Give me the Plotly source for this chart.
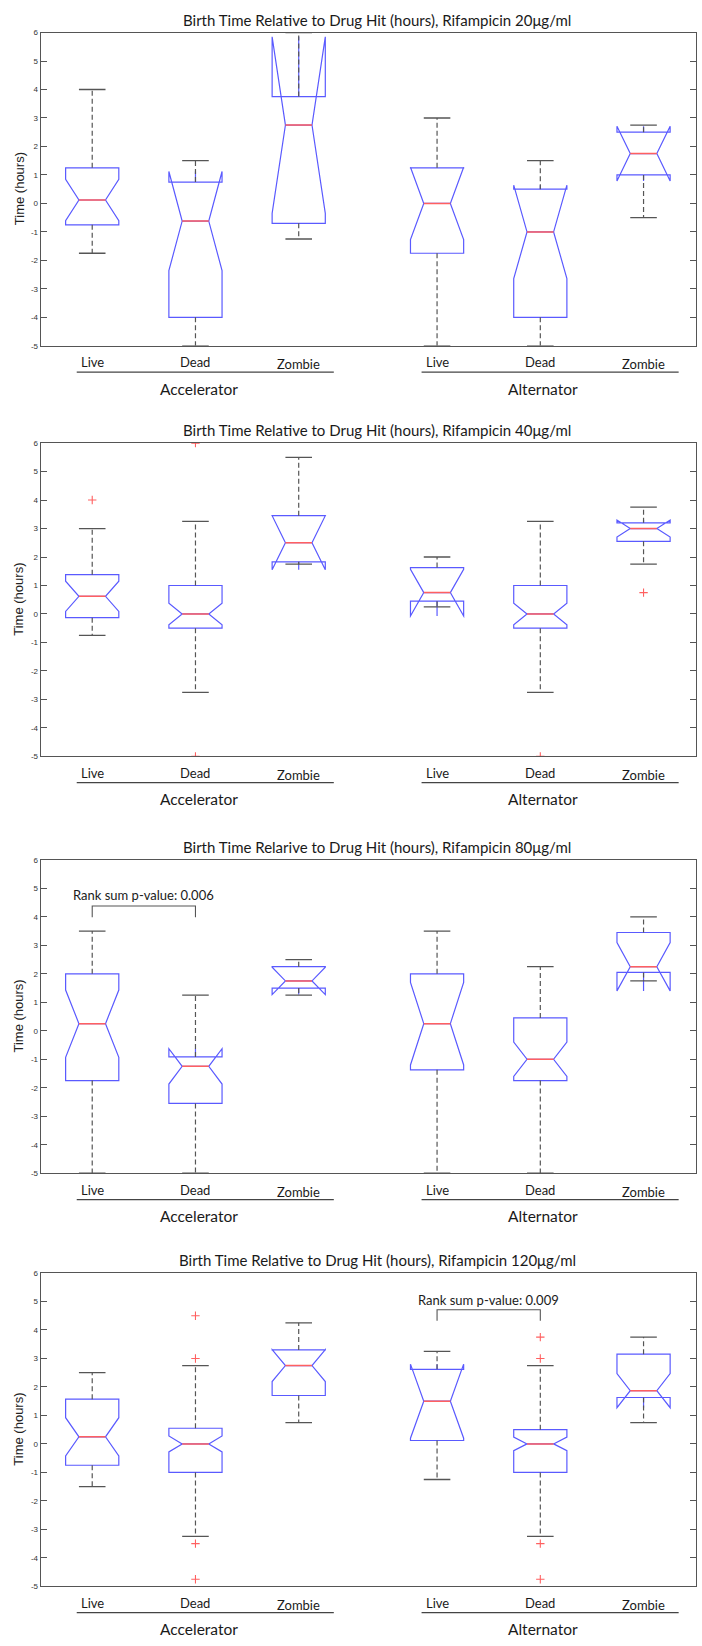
import plotly.graph_objects as go

# ---------------- data ----------------
categories = ["Live", "Dead", "Zombie", "Live", "Dead", "Zombie"]
groups = ["Accelerator", "Alternator"]
positions = [1, 2, 3, 4.34, 5.34, 6.34]
y_ticks = [-5, -4, -3, -2, -1, 0, 1, 2, 3, 4, 5, 6]

titles = [
    "Birth Time Relative to Drug Hit (hours), Rifampicin 20μg/ml",
    "Birth Time Relative to Drug Hit (hours), Rifampicin 40μg/ml",
    "Birth Time Relarive to Drug Hit (hours), Rifampicin 80μg/ml",
    "Birth Time Relative to Drug Hit (hours), Rifampicin 120μg/ml",
]

# 20 ug/ml
lo_20 = [-1.75, -5.0, -1.25, -5.0, -5.0, -0.5]
q1_20 = [-0.75, -4.0, -0.7, -1.75, -4.0, 1.0]
med_20 = [0.12, -0.62, 2.75, 0.0, -1.0, 1.75]
q3_20 = [1.25, 0.75, 3.75, 1.25, 0.5, 2.5]
hi_20 = [4.0, 1.5, 6.0, 3.0, 1.5, 2.75]
notch_20 = [0.73, 1.74, 3.1, 1.27, 1.64, 0.96]
out_idx_20 = []
out_val_20 = []

# 40 ug/ml
lo_40 = [-0.75, -2.75, 1.75, 0.25, -2.75, 1.75]
q1_40 = [-0.13, -0.5, 1.83, 0.45, -0.5, 2.55]
med_40 = [0.62, 0.0, 2.5, 0.75, 0.0, 3.0]
q3_40 = [1.38, 1.0, 3.45, 1.63, 1.0, 3.2]
hi_40 = [3.0, 3.25, 5.5, 2.0, 3.25, 3.75]
notch_40 = [0.53, 0.38, 0.95, 0.82, 0.38, 0.3]
out_idx_40 = [0, 1, 1, 4, 5]
out_val_40 = [4.0, 6.0, -5.0, -5.0, 0.75]

# 80 ug/ml
lo_80 = [-5.0, -5.0, 1.25, -5.0, -5.0, 1.75]
q1_80 = [-1.75, -2.55, 1.5, -1.37, -1.75, 2.05]
med_80 = [0.25, -1.25, 1.75, 0.25, -1.0, 2.25]
q3_80 = [2.0, -0.92, 2.25, 2.0, 0.45, 3.45]
hi_80 = [3.5, 1.25, 2.5, 3.5, 2.25, 4.0]
notch_80 = [1.18, 0.62, 0.48, 1.45, 0.6, 0.85]
out_idx_80 = []
out_val_80 = []

# 120 ug/ml
lo_120 = [-1.5, -3.25, 0.75, -1.25, -3.25, 0.75]
q1_120 = [-0.75, -1.0, 1.7, 0.12, -1.0, 1.63]
med_120 = [0.25, 0.0, 2.75, 1.5, 0.0, 1.87]
q3_120 = [1.57, 0.55, 3.3, 2.62, 0.5, 3.15]
hi_120 = [2.5, 2.75, 4.25, 3.25, 2.75, 3.75]
notch_120 = [0.67, 0.28, 0.56, 1.3, 0.24, 0.6]
out_idx_120 = [1, 1, 1, 1, 4, 4, 4, 4]
out_val_120 = [4.5, 3.0, -3.5, -4.75, 3.75, 3.0, -3.5, -4.75]

# rank-sum annotations
rank_panels = [2, 3]
rank_left = [0, 3]
rank_right = [1, 4]
rank_top = [4.38, 4.71]
rank_leg = [3.99, 4.32]
rank_text_y = [4.76, 5.05]
rank_texts = ["Rank sum p-value: 0.006", "Rank sum p-value: 0.009"]

panels = [
    (lo_20, q1_20, med_20, q3_20, hi_20, notch_20, out_idx_20, out_val_20),
    (lo_40, q1_40, med_40, q3_40, hi_40, notch_40, out_idx_40, out_val_40),
    (lo_80, q1_80, med_80, q3_80, hi_80, notch_80, out_idx_80, out_val_80),
    (lo_120, q1_120, med_120, q3_120, hi_120, notch_120, out_idx_120, out_val_120),
]

# ---------------- layout geometry ----------------
W, H = 702, 1646
panel_tops = [28.7, 441.5, 860.6, 1276.0]
plot_h = 315.0
x_left_px, x_right_px = 40.7, 696.0
x_range = [0.501, 6.848]
box_w = 0.515
half_notch = box_w / 4.0

BLUE = "#5a5aff"
RED = "#ff6060"
GRAY = "#555555"
TEXT = "#1a1a1a"


def py(px):
    return 1 - px / H


def pxp(px):
    return px / W


fig = go.Figure()
layout = dict(
    width=W, height=H, margin=dict(l=0, r=0, t=0, b=0),
    paper_bgcolor="white", plot_bgcolor="white", showlegend=False,
)
annotations = []
shapes = []

for i, (lo, q1, med, q3, hi, notch, oidx, oval) in enumerate(panels):
    s = "" if i == 0 else str(i + 1)
    xa, ya = "x" + s, "y" + s
    top = panel_tops[i]
    bottom = top + plot_h

    layout["xaxis" + s] = dict(
        domain=[pxp(x_left_px), pxp(x_right_px)], range=x_range, anchor=ya,
        showline=True, mirror=True, linecolor=GRAY, linewidth=1.2,
        showgrid=False, zeroline=False, ticks="", showticklabels=False,
        fixedrange=True,
    )
    layout["yaxis" + s] = dict(
        domain=[py(bottom), py(top)], range=[-5, 6], anchor=xa,
        showline=True, mirror="ticks", linecolor=GRAY, linewidth=1.2,
        showgrid=False, zeroline=False, ticks="inside", ticklen=6,
        tickcolor=GRAY, tickwidth=1,
        tickvals=y_ticks, ticktext=[str(v) for v in y_ticks],
        tickfont=dict(family="Arial", size=8, color="#333333"),
        fixedrange=True,
    )

    # notched boxes; whiskers drawn dashed below
    fig.add_trace(go.Box(
        x=positions, q1=q1, median=med, q3=q3,
        lowerfence=q1, upperfence=q3, notchspan=notch,
        notched=True, notchwidth=0.25, width=box_w, whiskerwidth=0,
        boxpoints=False, line=dict(color=BLUE, width=1.2),
        fillcolor="rgba(0,0,0,0)", xaxis=xa, yaxis=ya, hoverinfo="skip",
    ))

    wx, wy, cx, cy, mx, my = [], [], [], [], [], []
    for p, a, b, c, d, m in zip(positions, lo, q1, q3, hi, med):
        wx += [p, p, None, p, p, None]
        wy += [c, d, None, b, a, None]
        cx += [p - half_notch, p + half_notch, None, p - half_notch, p + half_notch, None]
        cy += [d, d, None, a, a, None]
        mx += [p - half_notch, p + half_notch, None]
        my += [m, m, None]
    fig.add_trace(go.Scatter(x=wx, y=wy, mode="lines", xaxis=xa, yaxis=ya,
                             line=dict(color=GRAY, width=1.2, dash="5px,3px"),
                             hoverinfo="skip"))
    fig.add_trace(go.Scatter(x=cx, y=cy, mode="lines", xaxis=xa, yaxis=ya,
                             line=dict(color=GRAY, width=1.3), hoverinfo="skip"))
    fig.add_trace(go.Scatter(x=mx, y=my, mode="lines", xaxis=xa, yaxis=ya,
                             line=dict(color=RED, width=1.5), hoverinfo="skip"))
    if oval:
        fig.add_trace(go.Scatter(
            x=[positions[k] for k in oidx], y=oval, mode="markers",
            xaxis=xa, yaxis=ya, hoverinfo="skip",
            marker=dict(symbol="cross-thin", size=6,
                        line=dict(color=RED, width=1.1)),
        ))

    for r, pnl in enumerate(rank_panels):
        if pnl != i:
            continue
        xl, xr = positions[rank_left[r]], positions[rank_right[r]]
        fig.add_trace(go.Scatter(
            x=[xl, xl, xr, xr], y=[rank_leg[r], rank_top[r], rank_top[r], rank_leg[r]],
            mode="lines", xaxis=xa, yaxis=ya, hoverinfo="skip",
            line=dict(color=GRAY, width=1.1)))
        annotations.append(dict(
            x=(xl + xr) / 2, y=rank_text_y[r], xref=xa, yref=ya,
            text=rank_texts[r], showarrow=False, xanchor="center", yanchor="middle",
            font=dict(family="Lato", size=13, color=TEXT)))

    annotations.append(dict(
        x=pxp(377), y=py(top - 13), xref="paper", yref="paper",
        text=titles[i], showarrow=False, xanchor="center", yanchor="middle",
        font=dict(family="Lato", size=15, color=TEXT)))
    annotations.append(dict(
        x=pxp(19), y=py(top + plot_h / 2), xref="paper", yref="paper",
        text="Time (hours)", showarrow=False, textangle=-90,
        xanchor="center", yanchor="middle",
        font=dict(family="Arial", size=13, color="#222222")))
    for p, c in zip(positions, categories):
        off = 18.5 if c == "Zombie" else 16.5
        annotations.append(dict(
            x=p, y=py(bottom + off), xref=xa, yref="paper", text=c,
            showarrow=False, xanchor="center", yanchor="middle",
            font=dict(family="Lato", size=13, color=TEXT)))
    for g, (a, b) in enumerate([(0, 2), (3, 5)]):
        shapes.append(dict(
            type="line", xref=xa, yref="paper",
            x0=positions[a] - 0.15, x1=positions[b] + 0.34,
            y0=py(bottom + 26.5), y1=py(bottom + 26.5),
            line=dict(color="#444444", width=1.2)))
        annotations.append(dict(
            x=positions[a + 1] + 0.03, y=py(bottom + 43), xref=xa, yref="paper",
            text=groups[g], showarrow=False, xanchor="center", yanchor="middle",
            font=dict(family="Lato", size=15.5, color=TEXT)))

layout["annotations"] = annotations
layout["shapes"] = shapes
fig.update_layout(**layout)
fig.write_html("out.html")
